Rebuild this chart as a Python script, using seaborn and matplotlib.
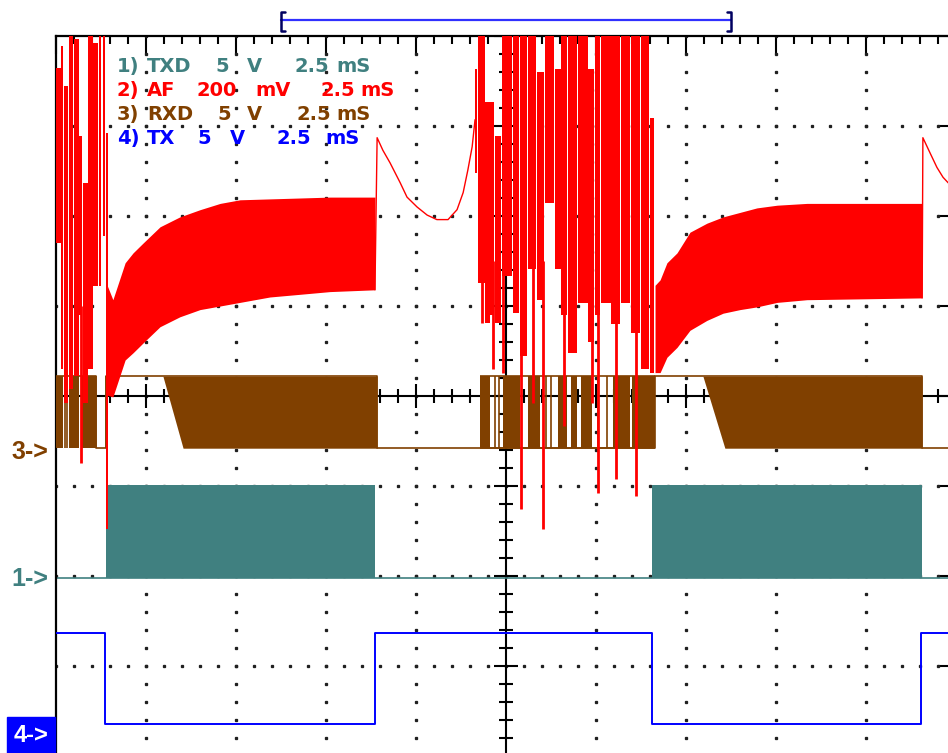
import numpy as np
import seaborn as sns
import matplotlib.pyplot as plt
from matplotlib.ticker import MultipleLocator
from matplotlib.patches import Rectangle

sns.set_style('white')
plt.rcParams['font.family'] = ['DejaVu Sans']

TEAL = '#408080'
RED = '#ff0000'
BROWN = '#804000'
BLUE = '#0000ff'

# x = time in ms (2.5 ms/div), y = screen divisions (0 = centre line)

# channel labels
ch_labels = ['1) TXD 5 V 2.5 mS', '2) AF 200 mV 2.5 mS',
             '3) RXD 5 V 2.5 mS', '4) TX 5 V 2.5 mS']
ch_colors = [TEAL, RED, BROWN, BLUE]

# ch4 TX (step)
tx_t = [0, 1.36, 8.86, 16.56, 24.03, 25]
tx_v = [-2.63, -3.64, -2.63, -3.64, -2.63, -2.63]

# ch1 TXD
txd_low = -2.02
txd_high = -0.99
txd_bursts = [(1.39, 8.86), (16.56, 24.06)]

# ch3 RXD
rxd_hi = 0.22
rxd_lo = -0.58
rxd_t = [0, 1.11, 1.39, 8.92, 16.64, 24.06, 25]
rxd_v = [rxd_hi, rxd_lo, rxd_hi, rxd_lo, rxd_hi, rxd_lo, rxd_lo]
rxd_blocks = [(0, 0.19), (0.36, 0.64), (0.69, 1.11), (11.78, 12.06),
              (12.42, 12.89), (13.11, 13.44), (13.94, 14.19), (14.31, 14.47),
              (14.58, 14.89), (15.47, 15.94), (16.0, 16.64)]
rxd_toggles = [0.25, 0.31, 1.11, 1.39, 12.2, 12.3, 13.6, 13.75, 15.05, 15.3]
rxd_ramps = [(2.97, 3.53, 8.92), (17.97, 18.58, 24.06)]
rxd_busy = (11.78, 16.64)

# ch2 AF envelopes
af1_t = [1.42, 1.58, 1.92, 2.14, 2.42, 2.89, 3.44, 4.0, 4.56, 5.11, 5.94, 6.78, 7.61, 8.86]
af1_hi = [1.23, 1.07, 1.48, 1.59, 1.70, 1.88, 1.99, 2.07, 2.14, 2.18, 2.19, 2.20, 2.21, 2.21]
af1_lo = [0.01, -0.01, 0.40, 0.48, 0.59, 0.77, 0.88, 0.96, 1.00, 1.04, 1.10, 1.13, 1.16, 1.18]
af2_t = [16.64, 16.78, 16.97, 17.25, 17.61, 18.08, 18.53, 19.0, 19.47, 20.03, 20.86, 24.06]
af2_hi = [1.23, 1.29, 1.48, 1.59, 1.82, 1.92, 1.99, 2.04, 2.09, 2.12, 2.14, 2.14]
af2_lo = [0.26, 0.26, 0.43, 0.54, 0.73, 0.84, 0.92, 0.96, 0.99, 1.04, 1.07, 1.09]

# AF tails after each burst
tail1_t = [8.86, 8.92, 9.08, 9.28, 9.42, 9.56, 9.75, 10.03, 10.31, 10.58, 10.89,
           11.14, 11.31, 11.44, 11.56, 11.64]
tail1_v = [1.18, 2.87, 2.73, 2.59, 2.48, 2.37, 2.21, 2.10, 2.01, 1.96, 1.96,
           2.07, 2.26, 2.51, 2.77, 3.07]
tail2_t = [24.06, 24.08, 24.28, 24.47, 24.64, 24.78, 25.0]
tail2_v = [1.09, 2.87, 2.70, 2.54, 2.43, 2.37, 2.30]

# AF noise columns (t0, t1, lo, hi)
af_noise = [
    (0.0, 0.14, 1.70, 3.64), (0.14, 0.22, 0.30, 3.89), (0.22, 0.36, -0.08, 3.44),
    (0.36, 0.50, 0.08, 4.0), (0.50, 0.64, 0.22, 3.97), (0.64, 0.75, 0.9, 2.89),
    (0.75, 0.89, -0.08, 2.37), (0.89, 1.03, 0.30, 4.0), (1.03, 1.17, 1.22, 3.92),
    (1.19, 1.27, 1.22, 4.0), (1.31, 1.37, 1.78, 4.0), (1.39, 1.47, -1.48, 2.92),
    (11.64, 11.72, 2.48, 3.63), (11.72, 11.92, 1.26, 4.0), (11.92, 12.06, 0.81, 3.27),
    (12.06, 12.19, 0.90, 3.27), (12.19, 12.39, 0.81, 2.89), (12.39, 12.69, 1.33, 4.0),
    (12.69, 12.89, 0.92, 4.0), (12.89, 13.11, 0.44, 4.0), (13.11, 13.36, 1.41, 4.0),
    (13.36, 13.58, 1.07, 3.60), (13.58, 13.86, 2.14, 4.0), (13.86, 14.03, 1.41, 3.63),
    (14.03, 14.22, 0.90, 4.0), (14.22, 14.50, 0.48, 4.0), (14.50, 14.78, 1.03, 4.0),
    (14.78, 14.97, 0.60, 3.63), (14.97, 15.14, 0.90, 4.0), (15.14, 15.42, 1.03, 4.0),
    (15.42, 15.69, 0.80, 4.0), (15.69, 15.97, 1.03, 4.0), (15.97, 16.25, 0.70, 4.0),
    (16.25, 16.50, 0.30, 4.0), (16.50, 16.64, 0.26, 3.09),
]
# thin AF spikes (t, lo, hi)
af_spikes = [
    (0.69, -0.74, 1.0), (11.82, 0.81, 1.5), (12.15, 0.30, 1.5), (12.41, 0.26, 1.5),
    (12.91, -1.26, 1.5), (13.25, -0.08, 1.5), (13.54, -1.48, 1.5), (14.10, -0.33, 1.5),
    (14.88, -0.08, 1.5), (15.06, -1.08, 1.5), (15.55, -0.92, 1.5), (16.10, -1.11, 1.5),
]

# time window bracket
window = (6.25, 18.75)

fig = plt.figure(figsize=(9.48, 7.53), dpi=100)
ax = fig.add_axes([56 / 948, -3 / 753, 900 / 948, 720 / 753])
ax.set_xlim(0, 25)
ax.set_ylim(-4, 4)

# frame + ticks
for s in ax.spines.values():
    s.set_linewidth(1.6)
    s.set_color('black')
ax.xaxis.set_major_locator(MultipleLocator(2.5))
ax.xaxis.set_minor_locator(MultipleLocator(0.5))
ax.yaxis.set_major_locator(MultipleLocator(1))
ax.yaxis.set_minor_locator(MultipleLocator(0.2))
ax.tick_params(which='both', direction='in', top=True, right=True,
               labelbottom=False, labelleft=False, color='black')
ax.tick_params(which='major', length=13, width=1.5)
ax.tick_params(which='minor', length=6, width=1.5)

# dotted graticule
minor_x = np.arange(0, 25.001, 0.5)
minor_y = np.arange(-4, 4.001, 0.2)
for gx in [2.5, 5, 7.5, 10, 15, 17.5, 20, 22.5]:
    ax.plot(np.full(len(minor_y), gx), minor_y, 's', ms=1.4, color='#202020', zorder=1)
for gy in [-3, -2, -1, 1, 2, 3]:
    ax.plot(minor_x, np.full(len(minor_x), gy), 's', ms=1.4, color='#202020', zorder=1)

# centre cross with ticks
ax.axhline(0, color='black', lw=1.5, zorder=1)
ax.axvline(12.5, color='black', lw=1.5, zorder=1)
is_maj_x = np.isclose(minor_x % 2.5, 0) | np.isclose(minor_x % 2.5, 2.5)
ax.vlines(minor_x[~is_maj_x], -0.078, 0.078, color='black', lw=1.5, zorder=1)
ax.vlines(minor_x[is_maj_x], -0.133, 0.133, color='black', lw=1.5, zorder=1)
is_maj_y = np.isclose(minor_y % 1, 0) | np.isclose(minor_y % 1, 1)
ax.hlines(minor_y[~is_maj_y], 12.5 - 0.194, 12.5 + 0.194, color='black', lw=1.5, zorder=1)
ax.hlines(minor_y[is_maj_y], 12.5 - 0.333, 12.5 + 0.333, color='black', lw=1.5, zorder=1)

# ch1 TXD
ax.axhline(txd_low, color=TEAL, lw=1.2, zorder=2)
for t0, t1 in txd_bursts:
    ax.fill_between([t0, t1], txd_low, txd_high, color=TEAL, lw=0, zorder=2)

# ch3 RXD
sns.lineplot(x=rxd_t, y=rxd_v, drawstyle='steps-post', estimator=None, sort=False,
             color=BROWN, lw=1.2, ax=ax, zorder=3)
ax.hlines([rxd_hi, rxd_lo], rxd_busy[0], rxd_busy[1], color=BROWN, lw=1.2, zorder=3)
ax.vlines(rxd_toggles, rxd_lo, rxd_hi, color=BROWN, lw=1.2, zorder=3)
for t0, t1 in rxd_blocks:
    ax.fill_between([t0, t1], rxd_lo, rxd_hi, color=BROWN, lw=0, zorder=3)
for t0, t1, t2 in rxd_ramps:
    ax.fill_between([t0, t1, t2], [rxd_hi, rxd_lo, rxd_lo], rxd_hi, color=BROWN, lw=0, zorder=3)

# ch4 TX
sns.lineplot(x=tx_t, y=tx_v, drawstyle='steps-post', estimator=None, sort=False,
             color=BLUE, lw=1.4, ax=ax, zorder=3)

# ch2 AF
ax.fill_between(af1_t, af1_lo, af1_hi, color=RED, lw=0, zorder=4)
ax.fill_between(af2_t, af2_lo, af2_hi, color=RED, lw=0, zorder=4)
sns.lineplot(x=tail1_t, y=tail1_v, estimator=None, sort=False, color=RED, lw=1.0, ax=ax, zorder=4)
sns.lineplot(x=tail2_t, y=tail2_v, estimator=None, sort=False, color=RED, lw=1.0, ax=ax, zorder=4)
n0 = [c[0] for c in af_noise]
nw = [c[1] - c[0] - 0.015 for c in af_noise]
nlo = [c[2] for c in af_noise]
nh = [c[3] - c[2] for c in af_noise]
ax.bar(n0, nh, width=nw, bottom=nlo, align='edge', color=RED, lw=0, zorder=4)
ax.vlines([s[0] for s in af_spikes], [s[1] for s in af_spikes], [s[2] for s in af_spikes],
          color=RED, lw=2, zorder=4)

# window bracket above the screen
by = 4.178
ax.plot(window, [by, by], color='#3030ff', lw=1.6, clip_on=False)
for x, d in [(window[0], 0.12), (window[1], -0.12)]:
    ax.plot([x + d, x, x, x + d], [4.267, 4.267, 4.056, 4.056], color='#000060',
            lw=1.8, clip_on=False)

# channel legend, word by word like the scope font
word_x = [[117, 147, 215, 247, 295, 336], [117, 147, 197, 255, 320, 360],
          [117, 147, 217, 247, 297, 336], [117, 147, 197, 230, 277, 325]]
base_y = [72, 96, 120, 144]
for lab, col, xs, py in zip(ch_labels, ch_colors, word_x, base_y):
    for w, px in zip(lab.split(), xs):
        fig.text(px / 948, 1 - py / 753, w, color=col, fontsize=14,
                 fontweight='bold', va='baseline', ha='left')

# ground markers
fig.text(11 / 948, 1 - 452 / 753, '3->', color=BROWN, fontsize=18,
         family='Liberation Sans', fontweight='bold', va='center', ha='left')
fig.text(11 / 948, 1 - 579 / 753, '1->', color=TEAL, fontsize=18,
         family='Liberation Sans', fontweight='bold', va='center', ha='left')
fig.add_artist(Rectangle((7 / 948, 0), 48 / 948, 36 / 753, color=BLUE,
                         transform=fig.transFigure))
fig.text(31 / 948, 1 - 735 / 753, '4->', color='white', fontsize=17,
         family='Liberation Sans', fontweight='bold', va='center', ha='center')

fig.savefig('out.png', dpi=100)
